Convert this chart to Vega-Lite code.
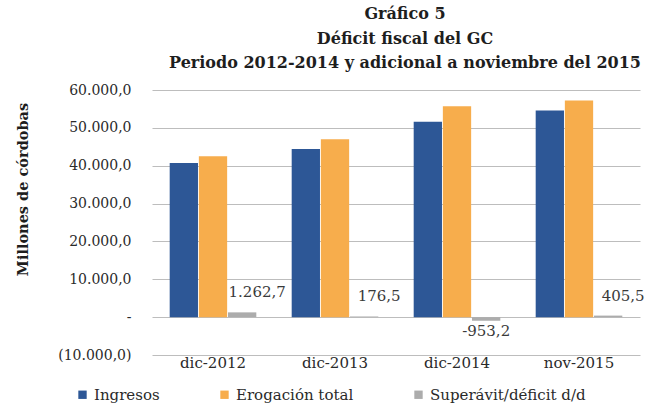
{
  "$schema": "https://vega.github.io/schema/vega-lite/v6.json",
  "width": 488,
  "height": 265,
  "autosize": {"type": "none"},
  "padding": {"left": 152, "top": 90, "right": 17, "bottom": 51},
  "background": "#ffffff",
  "config": {
    "locale": {"number": {"decimal": ",", "thousands": ".", "grouping": [3], "currency": ["", ""], "minus": "-"}},
    "font": "DejaVu Serif",
    "axis": {"labelFont": "DejaVu Serif", "titleFont": "DejaVu Serif"},
    "legend": {"labelFont": "DejaVu Serif", "titleFont": "DejaVu Serif"},
    "text": {"font": "DejaVu Serif"},
    "view": {"stroke": null}
  },
  "title": {
    "text": ["Gráfico 5", "Déficit fiscal del GC", "Periodo 2012-2014 y adicional a noviembre del 2015"],
    "font": "DejaVu Serif",
    "fontSize": 16,
    "fontWeight": "bold",
    "color": "#1e1e1e",
    "lineHeight": 24.5,
    "anchor": "middle",
    "offset": 12,
    "dx": 9
  },
  "data": {
    "values": [
      {"periodo": "dic-2012", "serie": "Ingresos", "valor": 40700},
      {"periodo": "dic-2012", "serie": "Erogación total", "valor": 42500},
      {"periodo": "dic-2012", "serie": "Superávit/déficit d/d", "valor": 1262.7},
      {"periodo": "dic-2013", "serie": "Ingresos", "valor": 44400},
      {"periodo": "dic-2013", "serie": "Erogación total", "valor": 47000},
      {"periodo": "dic-2013", "serie": "Superávit/déficit d/d", "valor": 176.5},
      {"periodo": "dic-2014", "serie": "Ingresos", "valor": 51600},
      {"periodo": "dic-2014", "serie": "Erogación total", "valor": 55700},
      {"periodo": "dic-2014", "serie": "Superávit/déficit d/d", "valor": -953.2},
      {"periodo": "nov-2015", "serie": "Ingresos", "valor": 54600},
      {"periodo": "nov-2015", "serie": "Erogación total", "valor": 57200},
      {"periodo": "nov-2015", "serie": "Superávit/déficit d/d", "valor": 405.5}
    ]
  },
  "encoding": {
    "x": {
      "field": "periodo",
      "type": "nominal",
      "sort": ["dic-2012", "dic-2013", "dic-2014", "nov-2015"],
      "scale": {"paddingInner": 0.29, "paddingOuter": 0.145},
      "axis": {
        "title": null,
        "labelAngle": 0,
        "labelFont": "DejaVu Serif",
        "labelFontSize": 15,
        "labelColor": "#2a2a2a",
        "labelPadding": 0,
        "domain": false,
        "ticks": false
      }
    },
    "xOffset": {
      "field": "serie",
      "type": "nominal",
      "scale": {"domain": ["Ingresos", "Erogación total", "Superávit/déficit d/d"], "paddingInner": 0.03}
    },
    "y": {
      "field": "valor",
      "type": "quantitative",
      "scale": {"domain": [-10000, 60000], "nice": false},
      "axis": {
        "title": "Millones de córdobas",
        "titleFont": "DejaVu Serif",
        "titleFontSize": 14.5,
        "titleFontWeight": "bold",
        "titleColor": "#1e1e1e",
        "titlePadding": 27,
        "titleY": 99,
        "values": [-10000, 0, 10000, 20000, 30000, 40000, 50000, 60000],
        "labelExpr": "datum.value == 0 ? '-' : (datum.value < 0 ? '(' + format(-datum.value, ',.1f') + ')' : format(datum.value, ',.1f'))",
        "labelFont": "DejaVu Serif",
        "labelFontSize": 14,
        "labelColor": "#2a2a2a",
        "labelPadding": 21,
        "domain": false,
        "ticks": false,
        "grid": true,
        "gridColor": "#bdbdbd",
        "gridWidth": 1
      }
    }
  },
  "layer": [
    {
      "mark": {"type": "bar"},
      "encoding": {
        "color": {
          "field": "serie",
          "type": "nominal",
          "scale": {"domain": ["Ingresos", "Erogación total", "Superávit/déficit d/d"], "range": ["#2d5796", "#f7ad4c", "#acacac"]},
          "legend": {
            "title": null,
            "orient": "none",
            "direction": "horizontal",
            "legendX": -77,
            "legendY": 297,
            "symbolType": "square",
            "symbolSize": 70,
            "symbolStrokeWidth": 0,
            "labelFont": "DejaVu Serif",
            "labelFontSize": 15,
            "labelColor": "#2a2a2a",
            "labelOffset": 4,
            "columnPadding": 57
          }
        }
      }
    },
    {
      "transform": [{"filter": "datum.serie == 'Superávit/déficit d/d' && datum.valor > 0"}],
      "mark": {"type": "text", "font": "DejaVu Serif", "baseline": "bottom", "dy": -12, "dx": 15, "fontSize": 15, "color": "#3a3a3a"},
      "encoding": {
        "text": {"field": "valor", "type": "quantitative", "format": ",.1f"}
      }
    },
    {
      "transform": [{"filter": "datum.serie == 'Superávit/déficit d/d' && datum.valor < 0"}],
      "mark": {"type": "text", "font": "DejaVu Serif", "baseline": "top", "dy": 3, "fontSize": 15, "color": "#3a3a3a"},
      "encoding": {
        "text": {"field": "valor", "type": "quantitative", "format": ",.1f"}
      }
    }
  ]
}
